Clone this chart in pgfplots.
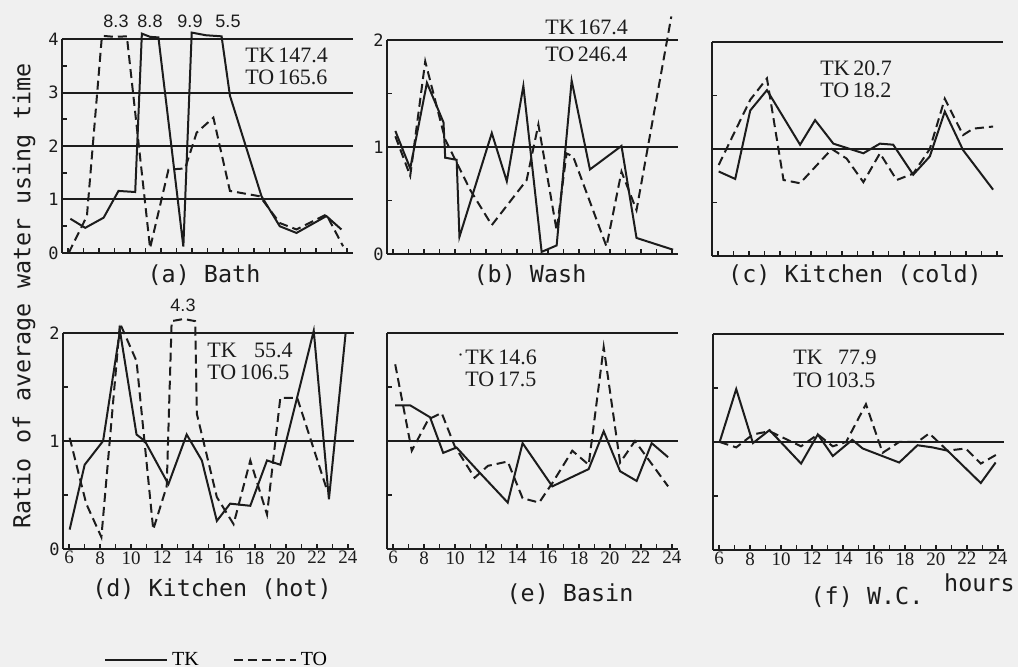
\documentclass[border=0pt]{standalone}
\usepackage{fontspec}
\setmainfont{Liberation Serif}
\newfontfamily\mono{DejaVu Sans Mono}
\newfontfamily\lsans{Liberation Sans}
\usepackage{pgfplots}
\pgfplotsset{compat=1.18}

\definecolor{ink}{RGB}{28,28,28}
\definecolor{paper}{RGB}{240,240,240}

\pgfplotsset{
  panel/.style={
    scale only axis, width=145.5pt, height=107pt,
    anchor=south west,
    xmin=5.6, xmax=24.4, ymin=0, ymax=2,
    axis x line=bottom, axis y line=left,
    axis line style={ink, line width=1pt, -},
    x axis line style={-}, y axis line style={-},
    xtick={6,8,...,24}, minor x tick num=1,
    ytick={0,1,2}, minor y tick num=1,
    tick align=inside, major tick length=2.5pt, minor tick length=2.5pt,
    tick style={ink, line width=0.8pt},
    ymajorgrids, grid style={ink, line width=1pt, solid},
    clip=false,
    /pgf/number format/assume math mode=true,
    xticklabel style={font=\fontsize{9.5}{10}\selectfont, inner sep=1pt, text=ink},
    yticklabel style={font=\mono\fontsize{8.5}{9}\selectfont, inner sep=1.5pt, text=ink},
  },
  tk/.style={solid, line width=1pt, ink},
  to/.style={dash pattern=on 4.5pt off 2.5pt, line width=1pt, ink},
}

\begin{document}
\begin{tikzpicture}
\useasboundingbox (0,0) rectangle (509pt,-333.5pt);
\fill[paper] (0,0) rectangle (509pt,-333.5pt);

% (a) Bath
\begin{axis}[panel, at={(31pt,-126.5pt)}, ymax=4, ytick={0,1,2,3,4}, xticklabels={}]
\addplot[tk] coordinates {(6.14,0.64)(7.1,0.47)(8.29,0.66)(9.25,1.16)(10.33,1.14)(10.76,4.1)(11.3,4.04)(11.83,4.03)(13.44,0.12)(13.98,4.12)(14.9,4.07)(15.91,4.05)(16.45,2.94)(18.49,1.06)(19.67,0.5)(20.75,0.375)(22.68,0.69)(23.65,0.44)};
\addplot[to] coordinates {(6.03,0)(7.21,0.69)(8.18,4.06)(9.0,4.04)(9.79,4.05)(11.29,0.09)(12.48,1.56)(13.55,1.58)(14.3,2.25)(15.38,2.53)(16.45,1.16)(18.38,1.06)(19.67,0.56)(20.75,0.44)(22.68,0.72)(23.76,0.125)};
\end{axis}

% (b) Wash
\begin{axis}[panel, at={(193.5pt,-127pt)}, xticklabels={}]
\addplot[tk] coordinates {(6.14,1.15)(7.1,0.80)(8.18,1.6)(9.25,1.23)(9.36,0.90)(10.1,0.88)(10.28,0.16)(12.37,1.13)(13.34,0.68)(14.41,1.57)(15.59,0.02)(16.56,0.08)(17.53,1.62)(18.71,0.79)(20.75,1.01)(21.72,0.15)(24.08,0.04)};
\addplot[to] coordinates {(6.14,1.1)(7.1,0.73)(8.07,1.8)(9.36,1.07)(10.97,0.6)(12.37,0.27)(14.62,0.69)(15.38,1.21)(16.56,0.22)(17.2,0.94)(17.63,0.91)(19.78,0.07)(20.75,0.77)(21.72,0.41)(23.97,2.22)};
\end{axis}

% (c) Kitchen (cold)
\begin{axis}[panel, at={(356pt,-128pt)}, xticklabels={}, yticklabels={}]
\addplot[tk] coordinates {(6.03,0.79)(7.1,0.72)(8.07,1.36)(9.15,1.55)(11.29,1.04)(12.26,1.27)(13.44,1.05)(15.38,0.96)(16.45,1.05)(17.31,1.04)(18.6,0.76)(19.67,0.93)(20.64,1.35)(21.82,0.99)(23.76,0.62)};
\addplot[to] coordinates {(6.03,0.85)(8.07,1.46)(9.15,1.66)(10.22,0.71)(11.29,0.68)(13.34,1.0)(14.3,0.91)(15.38,0.69)(16.45,0.96)(17.53,0.71)(18.6,0.77)(19.67,1.0)(20.64,1.47)(21.82,1.13)(22.47,1.19)(23.76,1.21)};
\end{axis}

% (d) Kitchen (hot)
\begin{axis}[panel, at={(31.5pt,-274.5pt)}, height=108pt,
  legend style={draw=none, fill=none, at={(0.14,-0.515)}, anchor=west,
    legend columns=2, font=\fontsize{10}{10}\selectfont, inner sep=0pt,
    /tikz/every even column/.append style={column sep=15pt}},
  legend image code/.code={\draw[#1] (0pt,0pt) -- (31pt,0pt);}]
\addplot[tk] coordinates {(6.03,0.18)(7.0,0.78)(8.19,1.0)(9.28,2.02)(10.35,1.06)(10.89,1.0)(12.41,0.6)(13.59,1.06)(14.57,0.82)(15.54,0.26)(16.4,0.42)(17.7,0.40)(18.78,0.82)(19.64,0.78)(21.8,2.02)(22.78,0.46)(23.86,2.0)};
\addlegendentry{TK}
\addplot[to] coordinates {(6.03,1.03)(7.1,0.42)(8.08,0.11)(9.28,2.09)(10.35,1.74)(11.43,0.18)(12.3,0.58)(12.62,2.11)(13.4,2.13)(14.14,2.11)(14.25,1.25)(15.54,0.48)(16.62,0.23)(17.7,0.82)(18.78,0.32)(19.64,1.4)(20.73,1.4)(22.67,0.54)};
\addlegendentry{TO}
\end{axis}

% (e) Basin
\begin{axis}[panel, at={(193.5pt,-274.5pt)}, height=108pt, yticklabels={}]
\addplot[tk] coordinates {(6.13,1.33)(7.1,1.33)(8.38,1.22)(9.23,0.89)(10.09,0.94)(11.37,0.74)(13.4,0.43)(14.36,0.98)(16.28,0.58)(18.63,0.74)(19.6,1.09)(20.66,0.72)(21.73,0.63)(22.7,0.98)(23.76,0.85)};
\addplot[to] coordinates {(6.13,1.71)(7.2,0.91)(8.27,1.2)(9.13,1.26)(9.98,0.95)(11.26,0.66)(12.12,0.77)(13.4,0.81)(14.36,0.47)(15.43,0.43)(16.28,0.61)(17.57,0.91)(18.63,0.78)(19.6,1.87)(20.66,0.80)(21.62,1.0)(23.76,0.58)};
\end{axis}

% (f) W.C.
\begin{axis}[panel, at={(356.5pt,-275pt)}, height=108pt, yticklabels={}]
\addplot[tk] coordinates {(6.03,1.0)(7.1,1.49)(8.18,0.99)(9.25,1.11)(11.29,0.80)(12.37,1.07)(13.34,0.87)(14.6,1.02)(15.27,0.94)(17.63,0.81)(18.81,0.97)(19.78,0.95)(20.75,0.92)(22.9,0.62)(23.86,0.81)};
\addplot[to] coordinates {(6.03,1.0)(7.1,0.95)(8.18,1.07)(9.25,1.1)(11.29,0.96)(12.37,1.07)(13.34,0.96)(14.2,1.0)(15.48,1.35)(16.56,0.9)(17.63,1.0)(18.81,1.0)(19.57,1.08)(20.75,0.92)(21.93,0.94)(22.9,0.8)(24.0,0.89)};
\end{axis}

\begin{scope}[x=0.5pt, y=-0.5pt, text=ink, inner sep=0pt]
  \tikzset{annt/.style={font=\fontsize{11}{12}\selectfont, anchor=base west},
           capt/.style={font=\mono\fontsize{11.7}{12}\selectfont, anchor=base},
           topv/.style={font=\lsans\fontsize{9}{10}\selectfont}}
  % totals
  \node[annt] at (245,63) {TK\,147.4};
  \node[annt] at (245,85) {TO\,165.6};
  \node[annt] at (545,35) {TK\,167.4};
  \node[annt] at (545,62) {TO\,246.4};
  \node[annt] at (820,76) {TK\,20.7};
  \node[annt] at (820,98) {TO\,18.2};
  \node[annt] at (207,358) {TK};
  \node[annt, anchor=base east] at (293,358) {55.4};
  \node[annt] at (207,380) {TO\,106.5};
  \node[annt] at (465,365) {TK\,14.6};
  \node[annt, anchor=base east] at (464,361) {$\cdot$};
  \node[annt] at (465,387) {TO\,17.5};
  \node[annt] at (793,365) {TK};
  \node[annt, anchor=base east] at (877,365) {77.9};
  \node[annt] at (793,388) {TO\,103.5};
  % off-scale values
  \node[topv] at (116,21) {8.3};
  \node[topv] at (150,21) {8.8};
  \node[topv] at (190,21) {9.9};
  \node[topv] at (228,21) {5.5};
  \node[topv] at (183,305) {4.3};
  % captions
  \node[capt] at (204,283) {(a) Bath};
  \node[capt] at (530,283) {(b) Wash};
  \node[capt] at (855,283) {(c) Kitchen (cold)};
  \node[capt] at (212,597) {(d) Kitchen (hot)};
  \node[capt] at (570,602) {(e) Basin};
  \node[capt] at (867,605) {(f) W.C.};
  \node[capt, anchor=base east] at (1015,592) {hours};
  \node[font=\mono\fontsize{11.7}{12}\selectfont, rotate=90] at (24,296) {Ratio of average water using time};
\end{scope}
\end{tikzpicture}
\end{document}
